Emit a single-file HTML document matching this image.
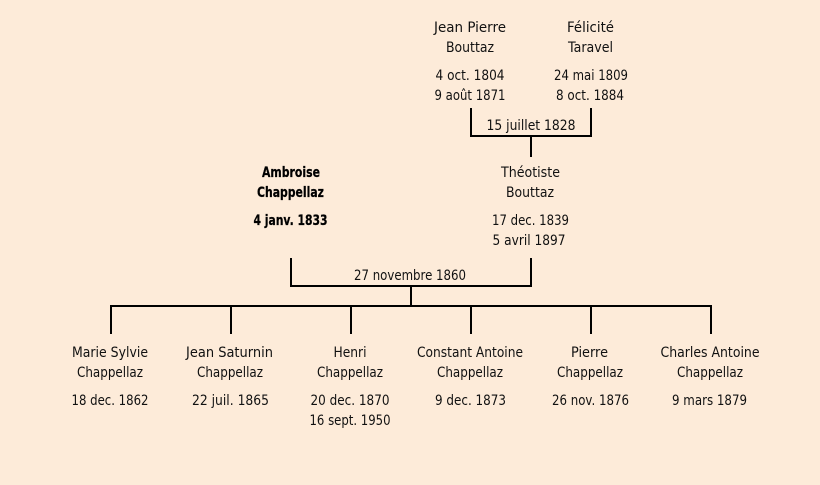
<!DOCTYPE html>
<html lang="fr">
<head>
<meta charset="utf-8">
<title>Ambroise Chappellaz</title>
<style>
html,body{margin:0;padding:0;background:#fdebd9;width:820px;height:485px;overflow:hidden}
svg{display:block}
text{font-family:"Comic Sans MS","DejaVu Sans",sans-serif;font-size:14px;fill:#111;text-anchor:middle}
.b{font-weight:bold;fill:#000;stroke:#000;stroke-width:.25px}
rect{fill:#000}
</style>
</head>
<body>
<svg width="820" height="485" viewBox="0 0 820 485" xmlns="http://www.w3.org/2000/svg">
<!-- top bracket -->
<rect x="470" y="108" width="2" height="29"/>
<rect x="590" y="108" width="2" height="29"/>
<rect x="470" y="135" width="122" height="2"/>
<rect x="530" y="137" width="2" height="20"/>
<!-- middle bracket -->
<rect x="290" y="258" width="2" height="29"/>
<rect x="530" y="258" width="2" height="29"/>
<rect x="290" y="285" width="242" height="2"/>
<rect x="410" y="287" width="2" height="18"/>
<!-- children bar -->
<rect x="110" y="305" width="602" height="2"/>
<rect x="110" y="307" width="2" height="27"/>
<rect x="230" y="307" width="2" height="27"/>
<rect x="350" y="307" width="2" height="27"/>
<rect x="470" y="307" width="2" height="27"/>
<rect x="590" y="307" width="2" height="27"/>
<rect x="710" y="307" width="2" height="27"/>

<text x="470" y="32" textLength="72" lengthAdjust="spacingAndGlyphs">Jean Pierre</text>
<text x="470" y="52" textLength="48" lengthAdjust="spacingAndGlyphs">Bouttaz</text>
<text x="470" y="80" textLength="69" lengthAdjust="spacingAndGlyphs">4 oct. 1804</text>
<text x="470" y="100" textLength="71" lengthAdjust="spacingAndGlyphs">9 août 1871</text>
<text x="590.5" y="32" textLength="47" lengthAdjust="spacingAndGlyphs">Félicité</text>
<text x="590.5" y="52" textLength="45" lengthAdjust="spacingAndGlyphs">Taravel</text>
<text x="591" y="80" textLength="74" lengthAdjust="spacingAndGlyphs">24 mai 1809</text>
<text x="590" y="100" textLength="68" lengthAdjust="spacingAndGlyphs">8 oct. 1884</text>
<text x="531" y="130" textLength="89" lengthAdjust="spacingAndGlyphs">15 juillet 1828</text>

<text class="b" x="291" y="177" textLength="58" lengthAdjust="spacingAndGlyphs">Ambroise</text>
<text class="b" x="290.5" y="197" textLength="67" lengthAdjust="spacingAndGlyphs">Chappellaz</text>
<text class="b" x="290.5" y="225" textLength="74" lengthAdjust="spacingAndGlyphs">4 janv. 1833</text>

<text x="530.5" y="177" textLength="59" lengthAdjust="spacingAndGlyphs">Théotiste</text>
<text x="530" y="197" textLength="48" lengthAdjust="spacingAndGlyphs">Bouttaz</text>
<text x="530.5" y="225" textLength="77" lengthAdjust="spacingAndGlyphs">17 dec. 1839</text>
<text x="529" y="245" textLength="73" lengthAdjust="spacingAndGlyphs">5 avril 1897</text>
<text x="410" y="280" textLength="112" lengthAdjust="spacingAndGlyphs">27 novembre 1860</text>

<text x="110" y="357" textLength="76" lengthAdjust="spacingAndGlyphs">Marie Sylvie</text>
<text x="110" y="377" textLength="66" lengthAdjust="spacingAndGlyphs">Chappellaz</text>
<text x="110" y="405" textLength="77" lengthAdjust="spacingAndGlyphs">18 dec. 1862</text>

<text x="229.5" y="357" textLength="87" lengthAdjust="spacingAndGlyphs">Jean Saturnin</text>
<text x="230" y="377" textLength="66" lengthAdjust="spacingAndGlyphs">Chappellaz</text>
<text x="230.5" y="405" textLength="77" lengthAdjust="spacingAndGlyphs">22 juil. 1865</text>

<text x="350" y="357" textLength="33" lengthAdjust="spacingAndGlyphs">Henri</text>
<text x="350" y="377" textLength="66" lengthAdjust="spacingAndGlyphs">Chappellaz</text>
<text x="350" y="405" textLength="79" lengthAdjust="spacingAndGlyphs">20 dec. 1870</text>
<text x="350" y="425" textLength="81" lengthAdjust="spacingAndGlyphs">16 sept. 1950</text>

<text x="470" y="357" textLength="106" lengthAdjust="spacingAndGlyphs">Constant Antoine</text>
<text x="470" y="377" textLength="66" lengthAdjust="spacingAndGlyphs">Chappellaz</text>
<text x="470.5" y="405" textLength="71" lengthAdjust="spacingAndGlyphs">9 dec. 1873</text>

<text x="589.5" y="357" textLength="37" lengthAdjust="spacingAndGlyphs">Pierre</text>
<text x="590" y="377" textLength="66" lengthAdjust="spacingAndGlyphs">Chappellaz</text>
<text x="590.5" y="405" textLength="77" lengthAdjust="spacingAndGlyphs">26 nov. 1876</text>

<text x="710" y="357" textLength="99" lengthAdjust="spacingAndGlyphs">Charles Antoine</text>
<text x="710" y="377" textLength="66" lengthAdjust="spacingAndGlyphs">Chappellaz</text>
<text x="709.5" y="405" textLength="75" lengthAdjust="spacingAndGlyphs">9 mars 1879</text>
</svg>
</body>
</html>
